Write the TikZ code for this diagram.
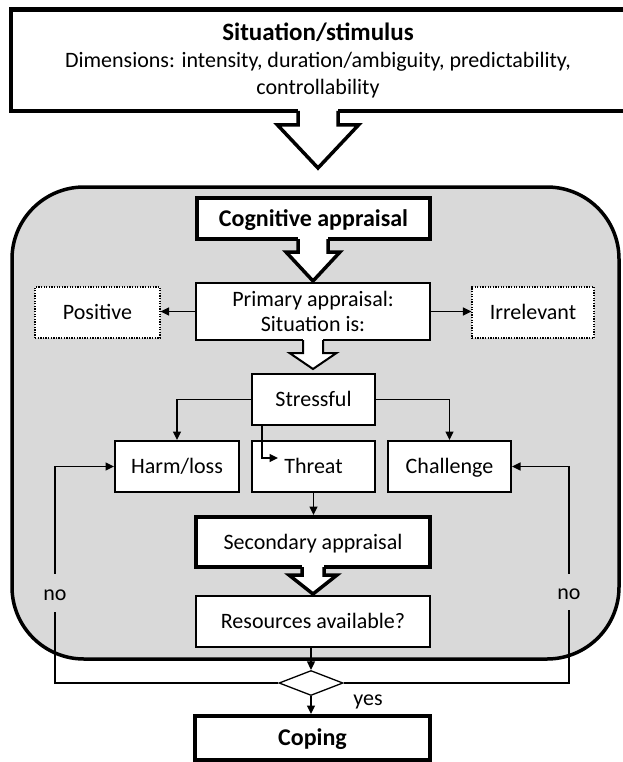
\documentclass[tikz,border=0pt]{standalone}
\usepackage{fontspec}
\setmainfont{Carlito}
\usetikzlibrary{arrows.meta,shapes.geometric}
\definecolor{panelgray}{HTML}{D9D9D9}
\newcommand\txtsz{\fontsize{22}{25}\selectfont}
\newcommand\hdsz{\fontsize{24}{28}\selectfont\bfseries}

\begin{document}
\begin{tikzpicture}[x=1pt,y=-1pt,
  box/.style={draw, fill=white, line width=2pt, inner sep=0pt, align=center, font=\txtsz},
  heavy/.style={box, line width=4pt},
  dotbox/.style={box, line width=1.2pt, dash pattern=on 1.3pt off 1.3pt},
  oneline/.style={text height=16pt, text depth=2pt},
  headline/.style={font=\hdsz, text height=17.5pt, text depth=2pt},
  conn/.style={line width=1.3pt, -{Triangle[length=8.5pt,width=8pt]}},
  wire/.style={line width=1.3pt},
  lbl/.style={font=\txtsz, inner sep=0pt},
  % hollow block arrow: tip at the origin, pointing down;
  % #1 shaft half width, #2 head half width, #3 head length, #4 tip-to-box distance
  pics/hollow/.style n args={4}{code={
     \fill[white] (-#1,-#4-3) rectangle (#1,-#3);
     \fill[white] (-#2,-#3) -- (0,0) -- (#2,-#3) -- cycle;
     \draw[line join=miter] (-#1,-#4) -- (-#1,-#3) -- (-#2,-#3) -- (0,0) -- (#2,-#3) -- (#1,-#3) -- (#1,-#4);
  }}
]
\useasboundingbox (0,0) rectangle (622,762);

% stimulus box
\node[heavy, line width=4.5pt, minimum width=614, minimum height=101.5,
      font=\fontsize{22}{27}\selectfont] (stim) at (318,60.25)
  {{\fontsize{25}{28}\selectfont\bfseries Situation/stimulus}\\[0pt]
   Dimensions: intensity, duration/ambiguity, predictability,\\
   controllability};
\pic[line width=3.5pt] at (318,168) {hollow={20}{40.5}{43}{57}};

% appraisal panel
\draw[fill=panelgray, line width=3.5pt, rounded corners=72pt] (12,187) rectangle (619,659);

\node[heavy, headline, minimum width=233, minimum height=41] (cog) at (313.5,218.5) {Cognitive appraisal};
\node[box, line width=2.5pt, minimum width=234, minimum height=57] (prim) at (313,311.5) {Primary appraisal:\\Situation is:};
\node[dotbox, oneline, minimum width=125, minimum height=51] (pos) at (97.5,312.5) {Positive};
\node[dotbox, oneline, minimum width=122, minimum height=51] (irr) at (533,312.5) {Irrelevant};
\node[box, oneline, minimum width=123, minimum height=51] (stress) at (313.5,399.5) {Stressful};
\node[box, oneline, minimum width=124, minimum height=51] (harm) at (177,466.5) {Harm/loss};
\node[box, oneline, minimum width=123, minimum height=51] (threat) at (313.5,466.5) {Threat};
\node[box, oneline, minimum width=123, minimum height=51] (chal) at (449.5,466.5) {Challenge};
\node[heavy, oneline, minimum width=234, minimum height=50] (sec) at (313,542) {Secondary appraisal};
\node[box, oneline, minimum width=234, minimum height=51] (res) at (313,621.5) {Resources available?};

\pic[line width=3.5pt] at (313,281) {hollow={15}{27}{29}{42}};
\pic[line width=2pt] at (313,369) {hollow={10}{23.5}{16}{29}};
\pic[line width=3.5pt] at (313,594) {hollow={11}{24}{19}{27}};

% decision and outcome
\node[draw, diamond, line width=1.3pt, fill=white, minimum width=64, minimum height=25, inner sep=0pt] (dia) at (311,683) {};
\node[heavy, headline, minimum width=235, minimum height=44] (cope) at (312.5,738) {Coping};
\node[lbl, oneline, minimum height=38] (noL) at (55,593) {no};
\node[lbl, oneline, minimum height=36] (noR) at (569,592) {no};
\node[lbl, oneline] (yes) at (368,698) {yes};

% connectors
\draw[conn] (prim.west) -- (prim.west -| pos.east);
\draw[conn] (prim.east) -- (prim.east -| irr.west);
\draw[conn] (stress.west) -| (harm.north);
\draw[conn] (stress.east) -| (chal.north);
\coordinate (tin) at (278,458);
\draw[conn] ([xshift=-51.5pt]stress.south) |- (tin);
\draw[conn] (threat.south) -- (threat.south |- sec.north);
\draw[conn] (res.south -| dia.north) -- (dia.north);
\draw[conn] (dia.south) -- (dia.south |- cope.north);
\draw[wire] (dia.west) -| (noL.south);
\draw[conn] (noL.north) |- (harm.west);
\draw[wire] (dia.east) -| (noR.south);
\draw[conn] (noR.north) |- (chal.east);
\end{tikzpicture}
\end{document}
